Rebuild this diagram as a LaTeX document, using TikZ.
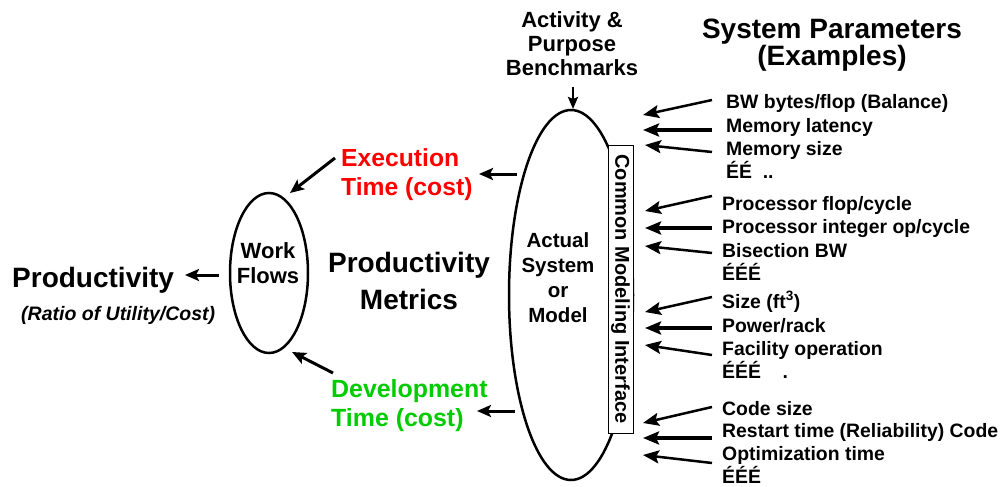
\documentclass[tikz,border=0pt]{standalone}
\usepackage{fontspec}
\setmainfont{Liberation Sans}
\usepackage{tikz}
\usetikzlibrary{arrows.meta,positioning,shapes.geometric}

\definecolor{costred}{RGB}{255,0,0}
\definecolor{costgreen}{RGB}{0,204,0}

\newcommand{\fsz}[2]{\fontsize{#1}{#2}\selectfont\bfseries}

\tikzset{
  txt/.style={inner sep=0pt, align=center},
  param/.style={inner sep=0pt, anchor=base west, font=\fsz{19.4}{23}},
  parrow/.style={line width=2.5pt, -{Stealth[length=16pt,width=13pt,inset=3pt]}},
  harrow/.style={line width=4pt, -{Stealth[length=16pt,width=13pt,inset=3pt]}},
  marrow/.style={line width=3pt, -{Stealth[length=14pt,width=12pt,inset=3pt]}},
}

\begin{document}
\begin{tikzpicture}[x=1pt, y=-1pt, thin]
  \useasboundingbox (0,0) rectangle (1005,487);

  % the system or model
  \node[ellipse, draw, line width=2.5pt, minimum width=124pt, minimum height=370pt, inner sep=0pt] (sysell) at (571,295) {};
  \node[txt, font=\fsz{20.5}{25}, anchor=north] (sys) at (558,232) {Actual\\System\\or\\Model};
  \node[draw, fill=white, line width=1pt, rotate=-90, minimum width=288pt, minimum height=25pt, inner sep=0pt,
        font=\fsz{20}{20}] (cmi) at (620.5,289) {Common Modeling Interface};

  % benchmarks
  \node[txt, font=\fsz{22}{24}, anchor=north] (bench) at (572,11) {Activity \&\\Purpose\\Benchmarks};
  \coordinate (benchtip) at (573,109);
  \draw[line width=2.5pt, -{Stealth[length=12pt,width=10pt,inset=2pt]}] (573,87) -- (benchtip);

  % system parameters
  \node[txt, font=\fsz{28}{24}, anchor=north] (syspar) at (832,19) {System Parameters\\(Examples)};

  \node[param] (p11) at (726,109) {BW bytes/flop (Balance)};
  \node[param] (p12) at (726,132) {Memory latency};
  \node[param] (p13) at (726,155) {Memory size};
  \node[param] (p14) at (726,178) {ÉÉ\ \ ..};

  \node[param] (p21) at (722,210) {Processor flop/cycle};
  \node[param] (p22) at (722,233) {Processor integer op/cycle};
  \node[param] (p23) at (722,257) {Bisection BW};
  \node[param] (p24) at (722,280) {ÉÉÉ};

  \node[param] (p31) at (722,308) {Size (ft\textsuperscript{3})};
  \node[param] (p32) at (722,332) {Power/rack};
  \node[param] (p33) at (722,355) {Facility operation};
  \node[param] (p34) at (722,378) {ÉÉÉ\ \ \ \ .};

  \node[param] (p41) at (722,415) {Code size};
  \node[param] (p42) at (722,437) {Restart time (Reliability) Code};
  \node[param] (p43) at (722,460) {Optimization time};
  \node[param] (p44) at (722,483.5) {ÉÉÉ};

  % arrows into the interface
  \coordinate (s11) at (712,100); \coordinate (t11) at (643,115);
  \coordinate (s12) at (712,130); \coordinate (t12) at (643,130);
  \coordinate (s13) at (712,152); \coordinate (t13) at (645,145);
  \coordinate (s21) at (712,196); \coordinate (t21) at (645,211);
  \coordinate (s22) at (712,228); \coordinate (t22) at (645,228);
  \coordinate (s23) at (712,253); \coordinate (t23) at (645,246);
  \coordinate (s31) at (712,297); \coordinate (t31) at (645,312);
  \coordinate (s32) at (712,328); \coordinate (t32) at (645,328);
  \coordinate (s33) at (712,355); \coordinate (t33) at (645,345);
  \coordinate (s41) at (712,407); \coordinate (t41) at (643,423);
  \coordinate (s42) at (712,438); \coordinate (t42) at (643,438);
  \coordinate (s43) at (712,463); \coordinate (t43) at (643,455);

  \draw[parrow] (s11) -- (t11);
  \draw[harrow] (s12) -- (t12);
  \draw[parrow] (s13) -- (t13);
  \draw[parrow] (s21) -- (t21);
  \draw[harrow] (s22) -- (t22);
  \draw[parrow] (s23) -- (t23);
  \draw[parrow] (s31) -- (t31);
  \draw[harrow] (s32) -- (t32);
  \draw[parrow] (s33) -- (t33);
  \draw[parrow] (s41) -- (t41);
  \draw[harrow] (s42) -- (t42);
  \draw[parrow] (s43) -- (t43);

  % costs
  \node[txt, font=\fsz{24.7}{29}, text=costred, align=left, anchor=north west] (exec) at (341,148) {Execution\\Time (cost)};
  \node[txt, font=\fsz{24.9}{29}, text=costgreen, align=left, anchor=north west] (devel) at (331,379) {Development\\Time (cost)};
  \coordinate (execfrom) at (517,174);
  \coordinate (exectip) at (479,174);
  \coordinate (develfrom) at (515,411);
  \coordinate (develtip) at (477,411);
  \draw[marrow] (execfrom) -- (exectip);
  \draw[marrow] (develfrom) -- (develtip);

  % work flows
  \node[ellipse, draw, line width=2.5pt, minimum width=78pt, minimum height=160pt, inner sep=0pt] (wfell) at (269,273) {};
  \node[txt, font=\fsz{22}{25}] (wf) at (268,263) {Work\\Flows};
  \coordinate (wftop) at (290,193);
  \coordinate (wfbot) at (292,352);
  \draw[marrow] (335,158) -- (wftop);
  \draw[marrow] (333,373) -- (wfbot);

  % productivity
  \node[txt, font=\fsz{28}{37}, anchor=north] (metrics) at (409,252) {Productivity\\Metrics};
  \node[inner sep=0pt, anchor=base west, font=\fsz{28}{29}] (prod) at (12,287) {Productivity};
  \node[inner sep=0pt, anchor=base west, font=\fsz{19.5}{20}\itshape] (ratio) at (21,320) {(Ratio of Utility/Cost)};
  \coordinate (prodtip) at (185,275);
  \draw[marrow] (wfell.west) ++(-10,2) -- (prodtip);
\end{tikzpicture}
\end{document}
